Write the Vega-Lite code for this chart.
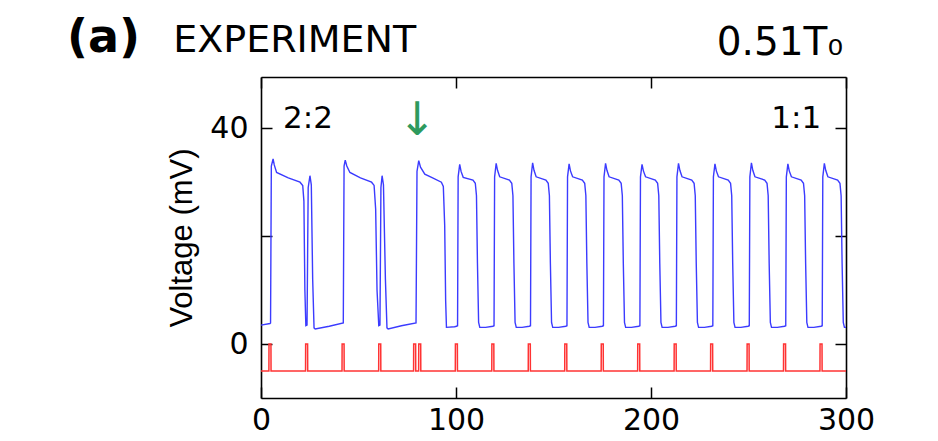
{
  "$schema": "https://vega.github.io/schema/vega-lite/v6.json",
  "width": 585,
  "height": 321,
  "autosize": {"type": "none"},
  "padding": {"left": 261, "top": 77, "right": 92, "bottom": 43},
  "background": "white",
  "config": {
    "view": {"stroke": null},
    "axis": {
      "grid": false,
      "domainColor": "black",
      "domainWidth": 1.6,
      "tickColor": "black",
      "tickWidth": 1.5,
      "tickSize": -11,
      "labelColor": "black",
      "labelFont": "DejaVu Sans",
      "labelFontSize": 30,
      "labelFlush": false,
      "labelOverlap": false
    }
  },
  "datasets": {
    "trace": [
      {"t":0,"v":3.5},{"t":4.6,"v":3.8},{"t":4.9,"v":3.9},{"t":5.3,"v":33},{"t":6.2,"v":34.3},{"t":6.8,"v":33.2},{"t":8.0,"v":31.8},{"t":14.0,"v":30.8},{"t":20.0,"v":30.0},{"t":21.4,"v":29.4},{"t":22.0,"v":26.5},{"t":22.5,"v":10},{"t":23.0,"v":3.4},
      {"t":23.6,"v":3.5},{"t":24.2,"v":29},{"t":25.1,"v":31.2},{"t":25.8,"v":29.5},{"t":26.5,"v":12},{"t":27.2,"v":3.0},{"t":27.8,"v":2.8},{"t":35.0,"v":3.3},
      {"t":42.2,"v":3.9},{"t":42.6,"v":33},{"t":43.2,"v":34.1},{"t":44.0,"v":33.0},{"t":45.6,"v":31.8},{"t":51.0,"v":30.8},{"t":56.7,"v":30.0},{"t":58.0,"v":29.4},{"t":58.8,"v":25},{"t":59.5,"v":10},{"t":60.4,"v":3.4},
      {"t":61.0,"v":3.5},{"t":61.5,"v":29},{"t":62.1,"v":31.2},{"t":62.8,"v":29.5},{"t":63.8,"v":12},{"t":64.6,"v":3.0},{"t":65.2,"v":2.8},{"t":72.0,"v":3.4},
      {"t":79.5,"v":3.9},{"t":80.0,"v":32},{"t":80.9,"v":34.0},{"t":81.8,"v":32.8},{"t":84.0,"v":31.5},{"t":88.0,"v":30.8},{"t":92.5,"v":30.0},{"t":93.5,"v":29.2},{"t":94.2,"v":22},{"t":94.7,"v":8},{"t":95.1,"v":3.1},{"t":99.3,"v":3.2},
      {"t":100.2,"v":3.3},{"t":100.8,"v":3.4},{"t":101.1,"v":31},{"t":101.9,"v":33.3},{"t":102.6,"v":32.0},{"t":103.7,"v":30.9},{"t":108.7,"v":30.4},{"t":109.9,"v":29.8},{"t":110.5,"v":27.5},{"t":111.0,"v":15},{"t":111.6,"v":4.0},{"t":112.2,"v":3.1},{"t":115.2,"v":3.1},
      {"t":118.9,"v":3.3},{"t":119.5,"v":3.4},{"t":119.8,"v":31},{"t":120.6,"v":33.5},{"t":121.3,"v":32.2},{"t":122.4,"v":31.0},{"t":127.4,"v":30.4},{"t":128.6,"v":29.8},{"t":129.2,"v":27.5},{"t":129.7,"v":15},{"t":130.3,"v":4.0},{"t":130.9,"v":3.1},{"t":133.9,"v":3.1},
      {"t":137.6,"v":3.3},{"t":138.2,"v":3.4},{"t":138.5,"v":31},{"t":139.3,"v":33.6},{"t":140.0,"v":32.2},{"t":141.1,"v":31.0},{"t":146.1,"v":30.4},{"t":147.3,"v":29.8},{"t":147.9,"v":27.5},{"t":148.4,"v":15},{"t":149.0,"v":4.0},{"t":149.6,"v":3.1},{"t":152.6,"v":3.1},
      {"t":156.3,"v":3.3},{"t":156.9,"v":3.4},{"t":157.2,"v":31},{"t":158.0,"v":33.4},{"t":158.7,"v":32.1},{"t":159.8,"v":31.0},{"t":164.8,"v":30.4},{"t":166.0,"v":29.8},{"t":166.6,"v":27.5},{"t":167.1,"v":15},{"t":167.7,"v":4.0},{"t":168.3,"v":3.1},{"t":171.3,"v":3.1},
      {"t":175.0,"v":3.3},{"t":175.6,"v":3.4},{"t":175.9,"v":31},{"t":176.7,"v":33.5},{"t":177.4,"v":32.2},{"t":178.5,"v":31.0},{"t":183.5,"v":30.4},{"t":184.7,"v":29.8},{"t":185.3,"v":27.5},{"t":185.8,"v":15},{"t":186.4,"v":4.0},{"t":187.0,"v":3.1},{"t":190.0,"v":3.1},
      {"t":193.7,"v":3.3},{"t":194.3,"v":3.4},{"t":194.6,"v":31},{"t":195.4,"v":33.3},{"t":196.1,"v":32.1},{"t":197.2,"v":31.0},{"t":202.2,"v":30.4},{"t":203.4,"v":29.8},{"t":204.0,"v":27.5},{"t":204.5,"v":15},{"t":205.1,"v":4.0},{"t":205.7,"v":3.1},{"t":208.7,"v":3.1},
      {"t":212.4,"v":3.3},{"t":213.0,"v":3.4},{"t":213.3,"v":31},{"t":214.1,"v":33.5},{"t":214.8,"v":32.2},{"t":215.9,"v":31.0},{"t":220.9,"v":30.4},{"t":222.1,"v":29.8},{"t":222.7,"v":27.5},{"t":223.2,"v":15},{"t":223.8,"v":4.0},{"t":224.4,"v":3.1},{"t":227.4,"v":3.1},
      {"t":231.1,"v":3.3},{"t":231.7,"v":3.4},{"t":232.0,"v":31},{"t":232.8,"v":33.4},{"t":233.5,"v":32.1},{"t":234.6,"v":31.0},{"t":239.6,"v":30.4},{"t":240.8,"v":29.8},{"t":241.4,"v":27.5},{"t":241.9,"v":15},{"t":242.5,"v":4.0},{"t":243.1,"v":3.1},{"t":246.1,"v":3.1},
      {"t":249.8,"v":3.3},{"t":250.4,"v":3.4},{"t":250.7,"v":31},{"t":251.5,"v":33.6},{"t":252.2,"v":32.2},{"t":253.3,"v":31.0},{"t":258.3,"v":30.4},{"t":259.5,"v":29.8},{"t":260.1,"v":27.5},{"t":260.6,"v":15},{"t":261.2,"v":4.0},{"t":261.8,"v":3.1},{"t":264.8,"v":3.1},
      {"t":268.5,"v":3.3},{"t":269.1,"v":3.4},{"t":269.4,"v":31},{"t":270.2,"v":33.4},{"t":270.9,"v":32.1},{"t":272.0,"v":31.0},{"t":277.0,"v":30.4},{"t":278.2,"v":29.8},{"t":278.8,"v":27.5},{"t":279.3,"v":15},{"t":279.9,"v":4.0},{"t":280.5,"v":3.1},{"t":283.5,"v":3.1},
      {"t":287.2,"v":3.3},{"t":287.8,"v":3.4},{"t":288.1,"v":31},{"t":288.9,"v":33.5},{"t":289.6,"v":32.2},{"t":290.7,"v":31.0},{"t":295.7,"v":30.4},{"t":296.9,"v":29.8},{"t":297.5,"v":27.5},{"t":298.0,"v":15},{"t":298.6,"v":4.0},{"t":299.2,"v":3.1},{"t":300,"v":3.1}
    ],
    "stim": [
      {"t":0,"v":-5},
      {"t":4.05,"v":-5},{"t":4.1,"v":0},{"t":5.1,"v":0},{"t":5.15,"v":-5},
      {"t":22.85,"v":-5},{"t":22.9,"v":0},{"t":23.9,"v":0},{"t":23.95,"v":-5},
      {"t":41.55,"v":-5},{"t":41.6,"v":0},{"t":42.6,"v":0},{"t":42.65,"v":-5},
      {"t":60.35,"v":-5},{"t":60.4,"v":0},{"t":61.4,"v":0},{"t":61.45,"v":-5},
      {"t":78.25,"v":-5},{"t":78.3,"v":0},{"t":79.3,"v":0},{"t":79.35,"v":-5},
      {"t":80.85,"v":-5},{"t":80.9,"v":0},{"t":81.9,"v":0},{"t":81.95,"v":-5},
      {"t":99.65,"v":-5},{"t":99.7,"v":0},{"t":100.7,"v":0},{"t":100.75,"v":-5},
      {"t":118.35,"v":-5},{"t":118.4,"v":0},{"t":119.4,"v":0},{"t":119.45,"v":-5},
      {"t":137.05,"v":-5},{"t":137.1,"v":0},{"t":138.1,"v":0},{"t":138.15,"v":-5},
      {"t":155.75,"v":-5},{"t":155.8,"v":0},{"t":156.8,"v":0},{"t":156.85,"v":-5},
      {"t":174.45,"v":-5},{"t":174.5,"v":0},{"t":175.5,"v":0},{"t":175.55,"v":-5},
      {"t":193.15,"v":-5},{"t":193.2,"v":0},{"t":194.2,"v":0},{"t":194.25,"v":-5},
      {"t":211.85,"v":-5},{"t":211.9,"v":0},{"t":212.9,"v":0},{"t":212.95,"v":-5},
      {"t":230.55,"v":-5},{"t":230.6,"v":0},{"t":231.6,"v":0},{"t":231.65,"v":-5},
      {"t":249.25,"v":-5},{"t":249.3,"v":0},{"t":250.3,"v":0},{"t":250.35,"v":-5},
      {"t":267.95,"v":-5},{"t":268.0,"v":0},{"t":269.0,"v":0},{"t":269.05,"v":-5},
      {"t":286.65,"v":-5},{"t":286.7,"v":0},{"t":287.7,"v":0},{"t":287.75,"v":-5},
      {"t":300,"v":-5}
    ],
    "notes": [
      {"id":"a","text":"(a)","t":-99.5,"v":54.2},
      {"id":"exp","text":"EXPERIMENT","t":-45,"v":54.2},
      {"id":"T","text":"0.51T₀","t":298.5,"v":53.6},
      {"id":"r22","text":"2:2","t":11.3,"v":40},
      {"id":"r11","text":"1:1","t":287.3,"v":40},
      {"id":"arrow","text":"↓","t":80.1,"v":38.7}
    ]
  },
  "layer": [
    {
      "data": {"name": "trace"},
      "mark": {"type": "line", "color": "#3b3bff", "strokeWidth": 1.4},
      "encoding": {
        "x": {"field": "t", "type": "quantitative", "scale": {"domain": [0, 300], "nice": false, "zero": false},
              "axis": {"orient": "bottom", "values": [0, 100, 200, 300], "labelPadding": 18, "title": null}},
        "y": {"field": "v", "type": "quantitative", "scale": {"domain": [-10, 49.5], "nice": false, "zero": false},
              "axis": {"orient": "left", "values": [0, 20, 40], "labelExpr": "datum.value == 20 ? '' : datum.label", "labelPadding": 24,
                       "title": "Voltage (mV)", "titleFont": "Liberation Sans", "titleFontSize": 31, "titleFontWeight": "normal", "titleColor": "black", "titlePadding": 11}}
      }
    },
    {
      "data": {"name": "stim"},
      "mark": {"type": "line", "color": "#ff3333", "strokeWidth": 1.5},
      "encoding": {
        "x": {"field": "t", "type": "quantitative", "scale": {"domain": [0, 300], "nice": false, "zero": false},
              "axis": {"orient": "top", "values": [0, 100, 200, 300], "labels": false, "title": null}},
        "y": {"field": "v", "type": "quantitative", "scale": {"domain": [-10, 49.5], "nice": false, "zero": false},
              "axis": {"orient": "right", "values": [0, 20, 40], "labels": false, "title": null}}
      }
    },
    {
      "data": {"name": "notes"},
      "transform": [{"filter": "datum.id === 'a'"}],
      "mark": {"type": "text", "font": "DejaVu Sans", "fontWeight": "bold", "fontSize": 46, "align": "left", "baseline": "alphabetic", "color": "black"},
      "encoding": {
        "x": {"field": "t", "type": "quantitative", "scale": {"domain": [0, 300], "nice": false, "zero": false}, "axis": null},
        "y": {"field": "v", "type": "quantitative", "scale": {"domain": [-10, 49.5], "nice": false, "zero": false}, "axis": null},
        "text": {"field": "text"}
      }
    },
    {
      "data": {"name": "notes"},
      "transform": [{"filter": "datum.id === 'exp'"}],
      "mark": {"type": "text", "font": "DejaVu Sans", "fontSize": 38, "align": "left", "baseline": "alphabetic", "color": "black"},
      "encoding": {
        "x": {"field": "t", "type": "quantitative", "scale": {"domain": [0, 300], "nice": false, "zero": false}, "axis": null},
        "y": {"field": "v", "type": "quantitative", "scale": {"domain": [-10, 49.5], "nice": false, "zero": false}, "axis": null},
        "text": {"field": "text"}
      }
    },
    {
      "data": {"name": "notes"},
      "transform": [{"filter": "datum.id === 'T'"}],
      "mark": {"type": "text", "font": "DejaVu Sans", "fontSize": 39, "align": "right", "baseline": "alphabetic", "color": "black"},
      "encoding": {
        "x": {"field": "t", "type": "quantitative", "scale": {"domain": [0, 300], "nice": false, "zero": false}, "axis": null},
        "y": {"field": "v", "type": "quantitative", "scale": {"domain": [-10, 49.5], "nice": false, "zero": false}, "axis": null},
        "text": {"field": "text"}
      }
    },
    {
      "data": {"name": "notes"},
      "transform": [{"filter": "datum.id === 'r22'"}],
      "mark": {"type": "text", "font": "DejaVu Sans", "fontSize": 31, "align": "left", "baseline": "alphabetic", "color": "black"},
      "encoding": {
        "x": {"field": "t", "type": "quantitative", "scale": {"domain": [0, 300], "nice": false, "zero": false}, "axis": null},
        "y": {"field": "v", "type": "quantitative", "scale": {"domain": [-10, 49.5], "nice": false, "zero": false}, "axis": null},
        "text": {"field": "text"}
      }
    },
    {
      "data": {"name": "notes"},
      "transform": [{"filter": "datum.id === 'r11'"}],
      "mark": {"type": "text", "font": "DejaVu Sans", "fontSize": 31, "align": "right", "baseline": "alphabetic", "color": "black"},
      "encoding": {
        "x": {"field": "t", "type": "quantitative", "scale": {"domain": [0, 300], "nice": false, "zero": false}, "axis": null},
        "y": {"field": "v", "type": "quantitative", "scale": {"domain": [-10, 49.5], "nice": false, "zero": false}, "axis": null},
        "text": {"field": "text"}
      }
    },
    {
      "data": {"name": "notes"},
      "transform": [{"filter": "datum.id === 'arrow'"}],
      "mark": {"type": "text", "font": "DejaVu Sans", "fontSize": 46, "align": "center", "baseline": "alphabetic", "color": "#2e9a5e"},
      "encoding": {
        "x": {"field": "t", "type": "quantitative", "scale": {"domain": [0, 300], "nice": false, "zero": false}, "axis": null},
        "y": {"field": "v", "type": "quantitative", "scale": {"domain": [-10, 49.5], "nice": false, "zero": false}, "axis": null},
        "text": {"field": "text"}
      }
    }
  ],
  "resolve": {"axis": {"x": "independent", "y": "independent"}}
}
